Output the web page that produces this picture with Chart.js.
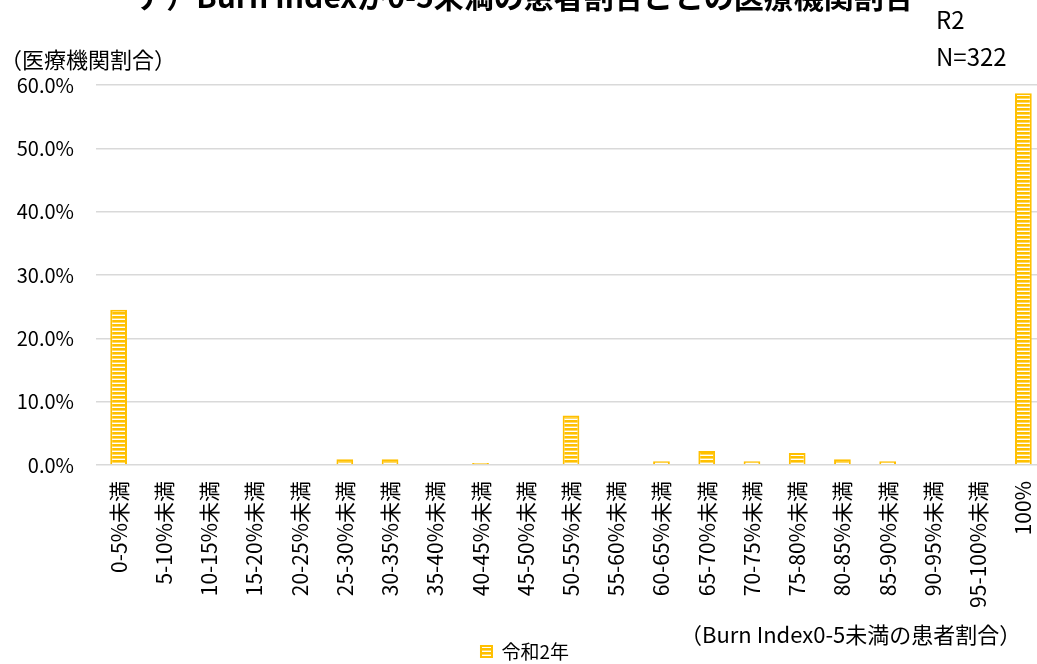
<!DOCTYPE html>
<html lang="ja">
<head>
<meta charset="utf-8">
<script src="https://cdn.jsdelivr.net/npm/chart.js@4"></script>
<style>
  html, body { margin: 0; padding: 0; background: #fff; overflow: hidden; }
  #wrap { position: relative; width: 1046px; height: 664px; }
</style>
</head>
<body>
<div id="wrap"><canvas id="chart"></canvas></div>
<script>
// categories (share of patients with Burn Index 0-5)
const categories = [
  "0-5%未満", "5-10%未満", "10-15%未満", "15-20%未満", "20-25%未満",
  "25-30%未満", "30-35%未満", "35-40%未満", "40-45%未満", "45-50%未満",
  "50-55%未満", "55-60%未満", "60-65%未満", "65-70%未満", "70-75%未満",
  "75-80%未満", "80-85%未満", "85-90%未満", "90-95%未満", "95-100%未満", "100%"
]
// share of hospitals (%), R2, N=322
const valuesR2 = [
  24.5, 0, 0, 0, 0,
  0.9, 0.9, 0, 0.3, 0,
  7.8, 0, 0.6, 2.2, 0.6,
  1.9, 0.9, 0.6, 0, 0, 58.7
]
const yTicks = [0, 10, 20, 30, 40, 50, 60]

const FONT = "'Noto Sans CJK JP', 'Noto Sans', sans-serif"
const YELLOW = "#FFC000"

// horizontal stripe fill like the Excel pattern
const makeStripes = () => {
  const c = document.createElement("canvas")
  c.width = 4
  c.height = 4
  const g = c.getContext("2d")
  g.fillStyle = "#ffffff"
  g.fillRect(0, 0, 4, 4)
  g.fillStyle = YELLOW
  g.fillRect(0, 0, 4, 2.6)
  return g.createPattern(c, "repeat")
}
const stripes = makeStripes()

// extra texts: cut-off title, unit labels, R2 / N
const textPlugin = {
  id: "texts",
  afterDraw(chart) {
    const ctx = chart.ctx
    ctx.save()
    ctx.fillStyle = "#000"
    ctx.textBaseline = "alphabetic"
    ctx.font = "bold 30px " + FONT
    ctx.textAlign = "center"
    ctx.fillText("ア）Burn Indexが0-5未満の患者割合ごとの医療機関割合", 525, 8)
    ctx.font = "22px " + FONT
    ctx.textAlign = "left"
    ctx.fillText("（医療機関割合）", 0, 68)
    ctx.font = "24px " + FONT
    ctx.fillText("R2", 936, 29)
    ctx.fillText("N=322", 936, 66)
    ctx.font = "22px " + FONT
    ctx.fillText("（Burn Index0-5未満の患者割合）", 680, 643)
    ctx.restore()
  }
}

new Chart(document.getElementById("chart"), {
  type: "bar",
  data: {
    labels: categories,
    datasets: [{
      label: "令和2年",
      data: valuesR2,
      backgroundColor: stripes,
      borderColor: YELLOW,
      borderWidth: 2,
      barPercentage: 0.37,
      categoryPercentage: 1.0
    }]
  },
  options: {
    responsive: true,
    maintainAspectRatio: false,
    animation: false,
    layout: { padding: { top: 85, right: 0, left: 4, bottom: -7 } },
    plugins: {
      title: { display: false },
      tooltip: { enabled: false },
      legend: {
        position: "bottom",
        labels: {
          color: "#000",
          font: { family: FONT, size: 19 },
          boxWidth: 11,
          boxHeight: 11,
          padding: 2
        }
      }
    },
    scales: {
      x: {
        afterFit: (scale) => {
          scale.height = 175
          scale.paddingLeft = 0
          scale.paddingRight = 0
        },
        grid: { display: false, drawTicks: false },
        border: { display: false },
        ticks: {
          color: "#000",
          font: { family: FONT, size: 21 },
          minRotation: 90,
          maxRotation: 90,
          autoSkip: false,
          padding: 16
        }
      },
      y: {
        min: 0,
        max: 60,
        afterFit: (scale) => { scale.width = 92 },
        afterBuildTicks: (scale) => { scale.ticks = yTicks.map((v) => ({ value: v })) },
        grid: { color: "#d9d9d9", lineWidth: 1.5, drawTicks: false },
        border: { display: false },
        ticks: {
          color: "#000",
          font: { family: FONT, size: 20 },
          padding: 22,
          callback: (v) => v.toFixed(1) + "%"
        }
      }
    }
  },
  plugins: [textPlugin]
})
</script>
</body>
</html>
